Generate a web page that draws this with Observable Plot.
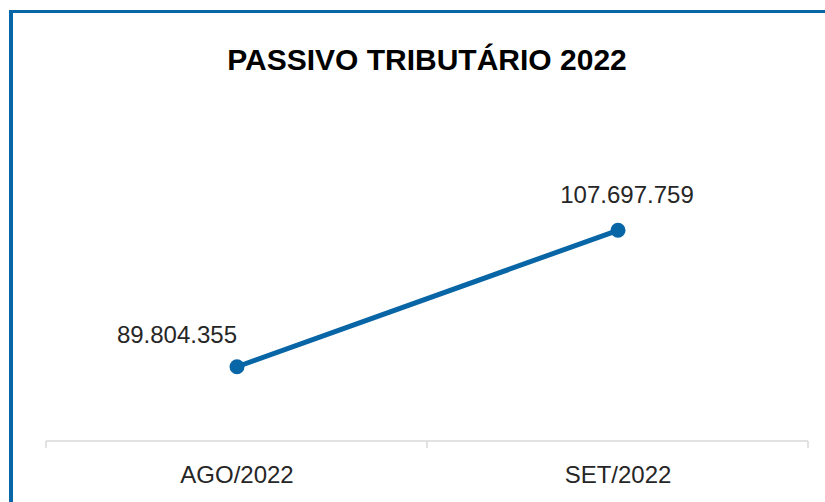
<!DOCTYPE html>
<html>
<head>
<meta charset="utf-8">
<script src="https://cdn.jsdelivr.net/npm/d3@7"></script>
<script src="https://cdn.jsdelivr.net/npm/@observablehq/plot@0.6"></script>
<style>
  html, body { margin: 0; padding: 0; background: #fff; }
  #wrap { position: relative; width: 825px; height: 502px; overflow: hidden; background: #fff; }
  #frame { position: absolute; left: 9px; top: 10px; width: 900px; height: 600px;
           border-left: 4px solid #0866a6; border-top: 3px solid #0866a6; box-sizing: border-box; }
  #title { position: absolute; top: 43px; left: 227px; width: 400px; text-align: center;
           font-family: "Liberation Sans", Arial, sans-serif; font-weight: bold; font-size: 30px;
           color: #000; white-space: nowrap; line-height: 34px; }
  #chart { position: absolute; left: 0; top: 0; }
</style>
</head>
<body>
<div id="wrap">
  <div id="frame"></div>
  <div id="chart"></div>
  <div id="title">PASSIVO TRIBUTÁRIO 2022</div>
</div>
<script>
const months = ["AGO/2022", "SET/2022"];
const values = [89804355, 107697759];
const yDomain = [80000000, 120000000];

const data = months.map((m, i) => ({month: m, value: values[i]}));
const fmt = v => d3.format(",")(v).replace(/,/g, ".");
const blue = "#0866a6";

function bandTicks(index, scales, values, dimensions) {
  const x = scales.x;
  const bw = x.bandwidth ? x.bandwidth() : 0;
  const y0 = dimensions.height - dimensions.marginBottom;
  const g = d3.create("svg:g");
  const bounds = months.map(m => x(m)).concat([x(months[months.length - 1]) + bw]);
  g.append("line")
    .attr("x1", bounds[0]).attr("x2", bounds[bounds.length - 1])
    .attr("y1", y0).attr("y2", y0)
    .attr("stroke", "#d9d9d9").attr("stroke-width", 1.5);
  for (const b of bounds) {
    g.append("line").attr("x1", b).attr("x2", b).attr("y1", y0).attr("y2", y0 + 7)
      .attr("stroke", "#d9d9d9").attr("stroke-width", 1.5);
  }
  return g.node();
}

const chart = Plot.plot({
  width: 825,
  height: 502,
  marginLeft: 46,
  marginRight: 17,
  marginTop: 136,
  marginBottom: 61,
  style: {fontFamily: "'Liberation Sans', Arial, sans-serif", fontSize: "24px", color: "#262626", background: "transparent"},
  x: {type: "band", domain: months, padding: 0, tickSize: 0, tickPadding: 24, label: null},
  y: {domain: yDomain, axis: null},
  marks: [
    bandTicks,
    Plot.line(data, {x: "month", y: "value", stroke: blue, strokeWidth: 5, strokeLinecap: "round"}),
    Plot.dot(data, {x: "month", y: "value", r: 7.5, fill: blue, stroke: "none"}),
    Plot.text(data.filter(d => d.month === months[0]), {x: "month", y: "value", text: d => fmt(d.value),
      textAnchor: "end", lineAnchor: "bottom", dy: -24, dx: 0, fontSize: 24, fill: "#262626"}),
    Plot.text(data.filter(d => d.month === months[1]), {x: "month", y: "value", text: d => fmt(d.value),
      textAnchor: "middle", lineAnchor: "bottom", dy: -27, dx: 9, fontSize: 24, fill: "#262626"})
  ]
});
document.getElementById("chart").appendChild(chart);
</script>
</body>
</html>
